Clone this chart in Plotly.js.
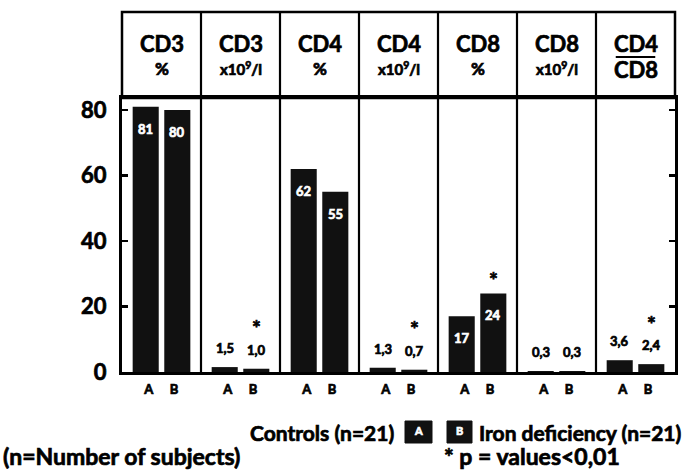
<!DOCTYPE html>
<html>
<head>
<meta charset="utf-8">
<script src="https://cdn.plot.ly/plotly-3.0.1.min.js"></script>
<style>
  html, body { margin: 0; padding: 0; background: #fff; }
  #chart { width: 688px; height: 471px; }
</style>
</head>
<body>
<div id="chart"></div>
<script>
// ---- data ----
const headTop = ['CD3', 'CD3', 'CD4', 'CD4', 'CD8', 'CD8', 'CD4'];
const headSub = ['%', 'x10<sup>9</sup>/l', '%', 'x10<sup>9</sup>/l', '%', 'x10<sup>9</sup>/l', 'CD8'];
const controls = [81, 1.5, 62, 1.3, 17, 0.3, 3.6];
const ironDeficiency = [80, 1.0, 55, 0.7, 24, 0.3, 2.4];
const significant = [false, true, false, true, true, false, true];
const groupLetters = ['A', 'B'];
const seriesNames = ['Controls (n=21)', 'Iron deficiency (n=21)'];
const footNotes = ['(n=Number of subjects)', '* p = values<0,01'];
const yTicks = [0, 20, 40, 60, 80];

// ---- geometry helpers (layout only) ----
const W = 688, H = 471;
const M = {l: 122, r: 13, t: 98, b: 99};
const PW = W - M.l - M.r, PH = H - M.t - M.b;
const px = x => (x - M.l) / PW;          // pixel x -> paper
const py = y => (H - M.b - y) / PH;      // pixel y -> paper
const headerTop = py(12);
const OFF = 0.2;                          // half distance between bars in a group
const fmt = v => v >= 10 ? String(v) : v.toFixed(1).replace('.', ',');

const xs = headTop.map((_, i) => i);
const barColor = '#111111';
const traces = [controls, ironDeficiency].map((vals, k) => ({
  type: 'bar', x: xs, y: vals, name: seriesNames[k],
  marker: {color: barColor, line: {width: 0}},
  showlegend: false, hoverinfo: 'skip'
}));

const FAM = 'Lato, sans-serif';
const font = {family: FAM, color: '#000', weight: 'bold'};
const f = (size, color) => Object.assign({}, font, {size: size, color: color || '#000'});
const annotations = [];
const shapes = [];

// header box + column dividers
shapes.push({type: 'rect', xref: 'paper', yref: 'paper', x0: 0, x1: 1, y0: 1, y1: headerTop,
  line: {color: '#000', width: 2.5}});
for (let i = 0; i < headTop.length - 1; i++) {
  shapes.push({type: 'line', xref: 'x', yref: 'paper', x0: i + 0.5, x1: i + 0.5, y0: 0, y1: headerTop,
    line: {color: '#000', width: 2.2}});
}
headTop.forEach((t, i) => {
  annotations.push({x: i, y: py(44), xref: 'x', yref: 'paper', text: t, showarrow: false,
    font: f(22), xanchor: 'center', yanchor: 'middle'});
  const isFrac = i === headTop.length - 1;
  annotations.push({x: i, y: py(isFrac ? 70 : 69), xref: 'x', yref: 'paper', text: headSub[i], showarrow: false,
    font: f(isFrac ? 22 : (headSub[i] === '%' ? 17 : 15)), xanchor: 'center', yanchor: 'middle'});
  if (isFrac) {
    shapes.push({type: 'line', xref: 'x', yref: 'paper', x0: i - 0.25, x1: i + 0.25, y0: py(57), y1: py(57),
      line: {color: '#000', width: 2}});
  }
});

// value labels and significance marks
[controls, ironDeficiency].forEach((vals, k) => {
  const dx = k === 0 ? -OFF : OFF;
  vals.forEach((v, i) => {
    const big = v >= 10;
    annotations.push({x: i + dx, y: v, xref: 'x', yref: 'y', text: fmt(v), showarrow: false,
      xanchor: 'center', yanchor: big ? 'middle' : 'bottom', yshift: big ? -22 : 9,
      font: f(13, big ? '#fff' : '#000')});
    if (k === 1 && significant[i]) {
      annotations.push({x: i + dx, y: v, xref: 'x', yref: 'y', text: '*', showarrow: false,
        xanchor: 'center', yanchor: 'middle', yshift: big ? 14 : 41,
        font: f(21, '#000')});
    }
  });
});

// legend (text + lettered boxes)
const boxes = [[405, 432], [447, 472]];
boxes.forEach((b, k) => {
  shapes.push({type: 'rect', xref: 'paper', yref: 'paper', x0: px(b[0]), x1: px(b[1]), y0: py(443), y1: py(421),
    fillcolor: barColor, line: {color: barColor, width: 1}});
  annotations.push({x: px((b[0] + b[1]) / 2), y: py(430), xref: 'paper', yref: 'paper', text: groupLetters[k],
    showarrow: false, xanchor: 'center', yanchor: 'middle', font: f(11, '#fff')});
});
annotations.push({x: px(396), y: py(432), xref: 'paper', yref: 'paper', text: seriesNames[0], showarrow: false,
  xanchor: 'right', yanchor: 'middle', font: f(21)});
annotations.push({x: px(477), y: py(432), xref: 'paper', yref: 'paper', text: seriesNames[1], showarrow: false,
  xanchor: 'left', yanchor: 'middle', font: f(21)});
annotations.push({x: px(1), y: py(456), xref: 'paper', yref: 'paper', text: footNotes[0], showarrow: false,
  xanchor: 'left', yanchor: 'middle', font: f(23)});
annotations.push({x: px(442), y: py(456), xref: 'paper', yref: 'paper', text: footNotes[1], showarrow: false,
  xanchor: 'left', yanchor: 'middle', font: f(23)});

// A / B tick labels under each column
const tickvals = [], ticktext = [];
xs.forEach(i => { tickvals.push(i - 0.16, i + 0.16); ticktext.push(groupLetters[0], groupLetters[1]); });

const layout = {
  width: W, height: H,
  margin: M,
  paper_bgcolor: '#fff', plot_bgcolor: '#fff',
  barmode: 'group', bargap: 0.2, bargroupgap: 0.175,
  font: {family: FAM, color: '#000'},
  xaxis: {range: [-0.5, headTop.length - 0.5], tickvals: tickvals, ticktext: ticktext,
    ticks: '', showgrid: false, zeroline: false, showline: true, mirror: true,
    linecolor: '#000', linewidth: 3, ticklabelstandoff: 3,
    tickfont: f(13), fixedrange: true},
  yaxis: {range: [0, PH / 3.275], tickvals: yTicks, ticks: 'inside', ticklen: 6, tickwidth: 2.5,
    tickcolor: '#000', showgrid: false, zeroline: false, showline: true, mirror: 'ticks',
    linecolor: '#000', linewidth: 3, ticklabelstandoff: 8,
    tickfont: f(22), fixedrange: true},
  shapes: shapes,
  annotations: annotations,
  showlegend: false
};

// thicken glyph strokes to approximate the heavy typeface of the original
function heavyText(gd) {
  gd.querySelectorAll('svg text').forEach(t => {
    const fill = t.style.fill || '#000';
    t.style.stroke = fill;
    t.style.strokeWidth = '0.7px';
    t.style.paintOrder = 'stroke';
  });
}

Plotly.newPlot('chart', traces, layout, {displayModeBar: false, staticPlot: true}).then(heavyText);
</script>
</body>
</html>
